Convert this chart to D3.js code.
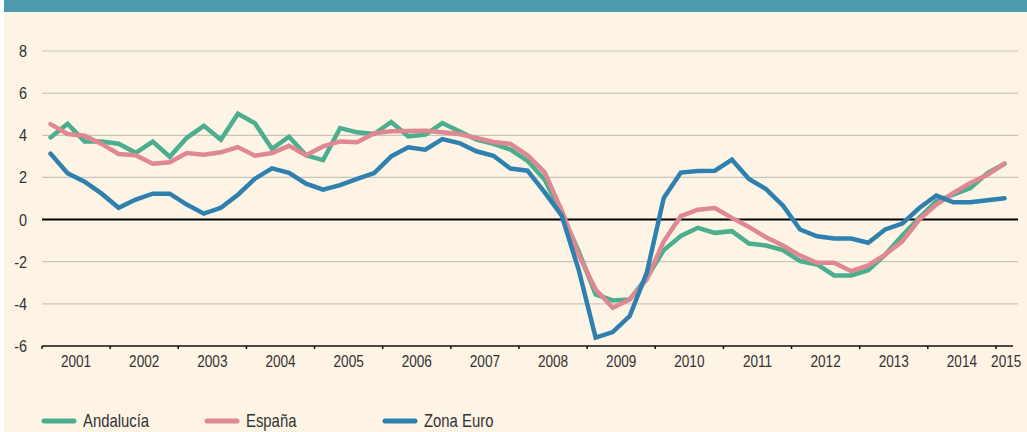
<!DOCTYPE html>
<html>
<head>
<meta charset="utf-8">
<script src="https://cdn.jsdelivr.net/npm/d3@7"></script>
<style>
  body { margin: 0; background: #fff; }
  svg { display: block; font-family: "Liberation Sans", Arial, sans-serif; }
</style>
</head>
<body>
<div id="chart"></div>
<script>
var width = 1027
var height = 432
var margin = { top: 51, right: 14, bottom: 86, left: 42 };
var narrow = 0.85; // horizontal squeeze to mimic condensed type

// quarterly data 2001Q1 .. 2015Q1
var years = ['2001','2002','2003','2004','2005','2006','2007','2008','2009','2010','2011','2012','2013','2014','2015'];
var yTicks = [-6, -4, -2, 0, 2, 4, 6, 8];

var andalucia = [3.9, 4.55, 3.71, 3.71, 3.6, 3.17, 3.7, 2.98, 3.88, 4.45, 3.79, 5.02, 4.57, 3.36, 3.93, 3.05,
    2.82, 4.34, 4.14, 4.06, 4.63, 3.95, 4.03, 4.58, 4.19, 3.79, 3.59, 3.32, 2.79, 1.9, 0.3, -1.5,
    -3.55, -3.84, -3.79, -2.76, -1.45, -0.78, -0.39, -0.63, -0.55, -1.14, -1.23, -1.45, -1.97, -2.13, -2.65, -2.65,
    -2.4, -1.66, -0.76, 0.08, 0.87, 1.18, 1.5, 2.21, 2.65];
var espana = [4.53, 4.06, 3.98, 3.59, 3.11, 3.05, 2.65, 2.72, 3.16, 3.08, 3.19, 3.44, 3.03, 3.16, 3.5, 3.05,
    3.47, 3.71, 3.67, 4.1, 4.19, 4.2, 4.22, 4.14, 4.06, 3.87, 3.68, 3.59, 3.05, 2.25, 0.45, -1.66,
    -3.32, -4.19, -3.79, -2.84, -1.03, 0.16, 0.47, 0.55, 0.08, -0.35, -0.84, -1.23, -1.71, -2.05, -2.05, -2.45,
    -2.18, -1.66, -1.03, 0, 0.71, 1.26, 1.74, 2.13, 2.65];
var zonaEuro = [3.13, 2.2, 1.8, 1.23, 0.56, 0.95, 1.23, 1.23, 0.71, 0.28, 0.56, 1.18, 1.94, 2.43, 2.22, 1.7,
    1.42, 1.63, 1.93, 2.21, 3.0, 3.43, 3.32, 3.82, 3.63, 3.24, 3.03, 2.42, 2.32, 1.3, 0.2, -2.37,
    -5.6, -5.34, -4.58, -2.53, 1.03, 2.23, 2.3, 2.32, 2.84, 1.93, 1.45, 0.66, -0.47, -0.79, -0.9, -0.9,
    -1.1, -0.47, -0.19, 0.55, 1.14, 0.82, 0.82, 0.92, 1.01];

var series = [
    { name: 'Andalucía', values: andalucia, color: '#4aae8f' },
    { name: 'España', values: espana, color: '#df8792' },
    { name: 'Zona Euro', values: zonaEuro, color: '#2e80ae' }
];

var svg = d3.select('#chart')
    .append('svg')
    .attr('width', width)
    .attr('height', height);

// background + top band
svg.append('rect').attr('x', 4).attr('y', 0).attr('width', width - 4).attr('height', height).attr('fill', '#fdf4e6');
svg.append('rect').attr('x', 4).attr('y', 0).attr('width', width - 4).attr('height', 12).attr('fill', '#4e9aae');

var nQ = andalucia.length; // 57 quarters
var xScale = d3.scaleLinear()
    .domain([0, nQ])
    .range([margin.left, width - margin.right]);
var yScale = d3.scaleLinear()
    .domain([-6, 8])
    .range([height - margin.bottom, margin.top]);

function squeeze(x, y) {
    return 'translate(' + x + ',' + y + ') scale(' + narrow + ',1)';
}

// grid
svg.selectAll('.grid')
    .data(yTicks.filter(function(d) { return d > -6 && d !== 0; }))
    .enter().append('line')
    .attr('x1', margin.left).attr('x2', width - 9)
    .attr('y1', function(d) { return yScale(d); })
    .attr('y2', function(d) { return yScale(d); })
    .attr('stroke', '#c9c5bd').attr('stroke-width', 1.2);

// y labels
svg.selectAll('.ylab')
    .data(yTicks)
    .enter().append('text')
    .attr('transform', function(d) { return squeeze(27, yScale(d) + 6); })
    .attr('text-anchor', 'end')
    .attr('font-size', 17)
    .attr('fill', '#333')
    .text(function(d) { return d; });

// bottom axis
var yearTicks = d3.range(0, nQ, 4);
svg.append('line')
    .attr('x1', margin.left).attr('x2', width - margin.right)
    .attr('y1', yScale(-6)).attr('y2', yScale(-6))
    .attr('stroke', '#111').attr('stroke-width', 1.5);
svg.selectAll('.xtick')
    .data(yearTicks)
    .enter().append('line')
    .attr('x1', function(d) { return xScale(d); })
    .attr('x2', function(d) { return xScale(d); })
    .attr('y1', yScale(-6)).attr('y2', yScale(-6) + 3)
    .attr('stroke', '#111').attr('stroke-width', 1.5);
svg.selectAll('.xlab')
    .data(years)
    .enter().append('text')
    .attr('transform', function(d, i) {
        var x = i < years.length - 1 ? xScale(i * 4 + 2) : xScale(nQ - 0.4);
        return squeeze(x, yScale(-6) + 21);
    })
    .attr('text-anchor', 'middle')
    .attr('font-size', 16)
    .attr('fill', '#333')
    .text(function(d) { return d; });

// zero line
svg.append('line')
    .attr('x1', margin.left).attr('x2', width - 9)
    .attr('y1', yScale(0)).attr('y2', yScale(0))
    .attr('stroke', '#000').attr('stroke-width', 2);

var line = d3.line()
    .x(function(d, i) { return xScale(i + 0.5); })
    .y(function(d) { return yScale(d); });

svg.selectAll('.series')
    .data(series)
    .enter().append('path')
    .attr('d', function(d) { return line(d.values); })
    .attr('fill', 'none')
    .attr('stroke', function(d) { return d.color; })
    .attr('stroke-width', 4.5)
    .attr('stroke-linejoin', 'miter')
    .attr('stroke-linecap', 'round');

// legend
var legendX = [42, 205, 383];
var lg = svg.selectAll('.legend')
    .data(series)
    .enter().append('g')
    .attr('transform', function(d, i) { return 'translate(' + legendX[i] + ',421)'; });
lg.append('line')
    .attr('x1', 2).attr('x2', 32)
    .attr('stroke', function(d) { return d.color; })
    .attr('stroke-width', 5)
    .attr('stroke-linecap', 'round');
lg.append('text')
    .attr('transform', squeeze(41, 6))
    .attr('font-size', 17.5)
    .attr('fill', '#333')
    .text(function(d) { return d.name; });
</script>
</body>
</html>
